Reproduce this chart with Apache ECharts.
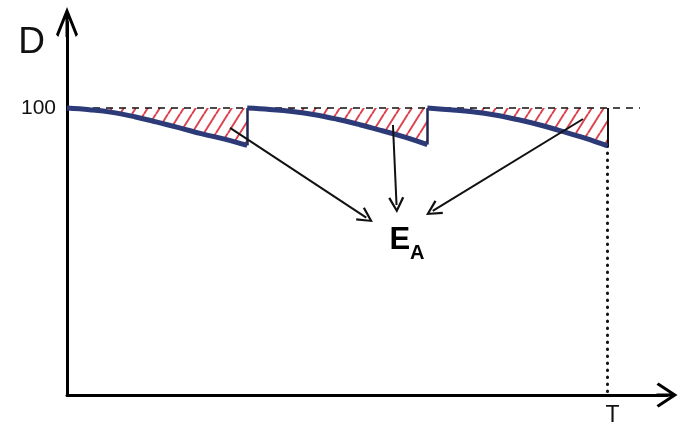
<!DOCTYPE html>
<html>
<head>
<meta charset="utf-8">
<title>D over three periods</title>
<script src="https://cdn.jsdelivr.net/npm/echarts@6/dist/echarts.min.js"></script>
<style>
  html, body { margin: 0; padding: 0; background: #fff; }
  #chart { width: 679px; height: 430px; }
</style>
</head>
<body>
<div id="chart"></div>
<script>
const periodStart = [0, 1, 2]
const periodSteps = [0, 0.125, 0.25, 0.375, 0.5, 0.625, 0.75, 0.875, 1]
const period1 = [100, 99.4, 98.5, 97.0, 95.1, 93.1, 91.0, 89.2, 87.0]
const period2 = [100, 99.5, 98.8, 97.7, 96.1, 94.2, 92.1, 89.9, 87.3]
const period3 = [100, 99.4, 98.7, 97.6, 96.0, 94.1, 91.9, 89.5, 86.8]
const refLevel = 100
const refLineEnd = 3.18
const tValue = 3
const xTickLabels = {3: 'T'}
const yTickLabels = {100: '100'}
// arrows towards E_A, [x, D]
const arrowFrom = [[0.905, 93.1], [1.809, 94.1], [2.864, 96.2]]
const arrowTo = [[1.661, 61.8], [1.829, 66.2], [2.030, 64.2]]
const labelPos = [1.887, 52.6]

const FONT = 'Liberation Sans'
const NAVY = '#2d3a78'
// open arrow heads with a stem, tip at the top
const yArrow = 'path://M11,0 L22,27.5 L19.76,30 L12.5,11.8 L12.5,30 L9.5,30 L9.5,11.8 L2.24,30 L0,27.5 Z'
const xArrow = 'path://M12.5,0 L25,19 L22.73,21 L14,7.7 L14,21 L11,21 L11,7.7 L2.27,21 L0,19 Z'
const headArrow = 'path://M7,0 L14,14.5 L12.2,15.5 L7,4.3 L1.8,15.5 L0,14.5 Z'

function hatch () {
  let w = 12
  let h = 19
  let c = document.createElement('canvas')
  c.width = w
  c.height = h
  let ctx = c.getContext('2d')
  ctx.strokeStyle = '#dc4450'
  ctx.lineWidth = 2
  ctx.beginPath()
  for (let k = -1; k <= 1; k++) {
    ctx.moveTo(k * w, h)
    ctx.lineTo(k * w + w, 0)
  }
  ctx.stroke()
  return c
}

let periods = [period1, period2, period3]
let pattern = hatch()
let series = []

periods.forEach(function (vals, i) {
  let pts = vals.map(function (v, j) { return [periodStart[i] + periodSteps[j], v] })
  // hatched gap between D and 100
  series.push({
    type: 'line',
    data: pts,
    symbol: 'none',
    smooth: 0.4,
    silent: true,
    lineStyle: {width: 0},
    areaStyle: {origin: refLevel, color: {image: pattern, repeat: 'repeat'}, opacity: 1},
    z: 1
  })
  series.push({
    type: 'line',
    data: pts,
    symbol: 'none',
    smooth: 0.4,
    silent: true,
    lineStyle: {color: NAVY, width: 5},
    z: 4
  })
})

// dashed 100 level
series.push({
  type: 'line',
  data: [[0, refLevel], [refLineEnd, refLevel]],
  symbol: 'none',
  silent: true,
  lineStyle: {color: '#111', width: 1.5, type: [7, 6]},
  z: 2
})

// jumps back to 100 and the dotted line at T
series.push({
  type: 'lines',
  coordinateSystem: 'cartesian2d',
  silent: true,
  z: 3,
  data: [
    {coords: [[1, period1[period1.length - 1]], [1, refLevel]], lineStyle: {color: '#1e2550', width: 2.5}},
    {coords: [[2, period2[period2.length - 1]], [2, refLevel]], lineStyle: {color: '#1e2550', width: 2.5}},
    {coords: [[tValue, period3[period3.length - 1]], [tValue, refLevel]], lineStyle: {color: '#111', width: 2}},
    {coords: [[tValue, period3[period3.length - 1]], [tValue, 0]], lineStyle: {color: '#111', width: 3, type: [0.5, 6.5], cap: 'round'}}
  ],
  lineStyle: {opacity: 1}
})

// arrows
series.push({
  type: 'lines',
  coordinateSystem: 'cartesian2d',
  silent: true,
  z: 5,
  symbol: ['none', headArrow],
  symbolSize: 16,
  lineStyle: {color: '#111', width: 2, opacity: 1},
  data: arrowFrom.map(function (p, i) { return {coords: [p, arrowTo[i]]} })
})

series.push({
  type: 'scatter',
  data: [labelPos],
  symbolSize: 0,
  silent: true,
  itemStyle: {color: '#000', opacity: 1},
  label: {
    show: true,
    position: 'inside',
    color: '#000',
    textBorderWidth: 0,
    formatter: '{e|E}{a|A}',
    rich: {
      e: {fontSize: 31, fontWeight: 'bold', fontFamily: FONT, color: '#000', verticalAlign: 'top', padding: [0, 0, 8, 0]},
      a: {fontSize: 20, fontWeight: 'bold', fontFamily: FONT, color: '#000', verticalAlign: 'bottom'}
    }
  },
  z: 6
})

let chart = echarts.init(document.getElementById('chart'))
chart.setOption({
  animation: false,
  backgroundColor: '#fff',
  grid: {left: 67, right: 12, top: 22, bottom: 35, outerBoundsMode: 'none'},
  xAxis: {
    type: 'value',
    min: 0,
    max: 3.33,
    interval: 1,
    axisLine: {show: true, onZero: false, lineStyle: {color: '#000', width: 3}, symbol: ['none', xArrow], symbolSize: [25, 21]},
    axisTick: {show: false},
    splitLine: {show: false},
    axisLabel: {
      formatter: function (v) { return xTickLabels[v] || '' },
      fontSize: 23, fontFamily: FONT, color: '#111', margin: 9, padding: [0, 0, 0, 10]
    }
  },
  yAxis: {
    type: 'value',
    min: 0,
    max: 130,
    interval: 100,
    name: 'D',
    nameLocation: 'end',
    nameGap: -2,
    nameTextStyle: {fontSize: 37, fontFamily: FONT, color: '#111', align: 'right', verticalAlign: 'top', padding: [0, 22, 0, 0]},
    axisLine: {show: true, onZero: false, lineStyle: {color: '#000', width: 3}, symbol: ['none', yArrow], symbolSize: [22, 30]},
    axisTick: {show: false},
    splitLine: {show: false},
    axisLabel: {
      formatter: function (v) { return yTickLabels[v] || '' },
      fontSize: 21, fontFamily: FONT, color: '#111', margin: 11, padding: [0, 0, 14, 0]
    }
  },
  series: series
})
</script>
</body>
</html>
